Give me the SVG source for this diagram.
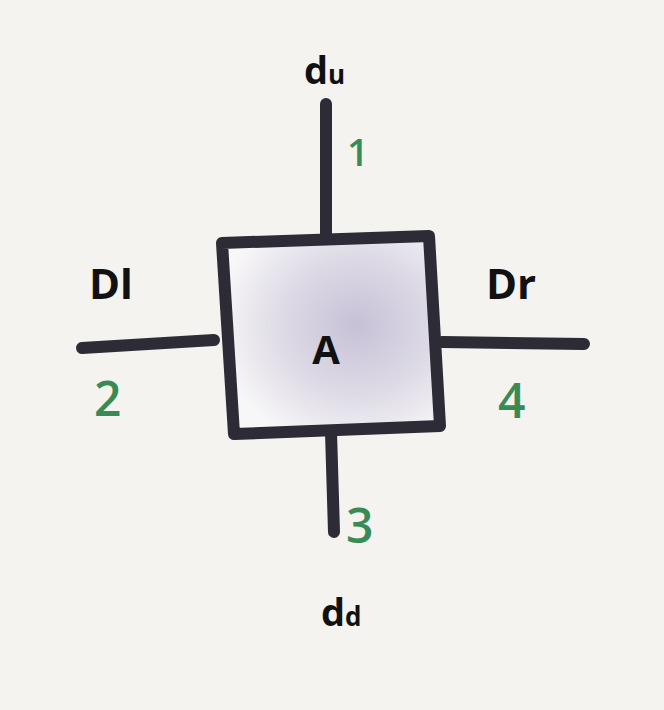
<svg xmlns="http://www.w3.org/2000/svg" width="664" height="710" viewBox="0 0 664 710">
<defs>
<radialGradient id="shade" cx="0.62" cy="0.45" r="0.65">
<stop offset="0" stop-color="#c6c1d6"/>
<stop offset="0.55" stop-color="#dedbe6"/>
<stop offset="1" stop-color="#f8f7f8"/>
</radialGradient>
<style>
.ln{stroke:#2c2b36;stroke-width:12;stroke-linecap:round;stroke-linejoin:round;fill:none}
.lbl{font-family:"Open Sans","Liberation Sans",sans-serif;font-weight:700;fill:#111;}
.num{font-family:"Open Sans","Liberation Sans",sans-serif;font-weight:600;fill:#3a8a55;}
</style>
</defs>
<rect width="664" height="710" fill="#f4f3ef"/>
<g id="connectors">
<path class="ln" d="M326,104 L326,238"/>
<path class="ln" d="M82,348 L214,340"/>
<path class="ln" d="M442,342 L584,344"/>
<path class="ln" d="M331,432 L334,532"/>
</g>
<g id="A">
<path d="M222,243 L429,236 L440,426 L234,434 Z" fill="url(#shade)"/>
<path class="ln" stroke-width="13" d="M222,243 L429,236 L440,426 L234,434 Z"/>
<text class="lbl" x="326" y="364" font-size="40" text-anchor="middle">A</text>
</g>
<g id="du">
<text class="lbl" x="304" y="84" font-size="38">d<tspan font-size="26">u</tspan></text>
<text class="num" x="347" y="166" font-size="38">1</text>
</g>
<g id="Dl">
<text class="lbl" x="89" y="299" font-size="42">Dl</text>
<text class="num" x="94" y="416" font-size="48">2</text>
</g>
<g id="Dr">
<text class="lbl" x="486" y="299" font-size="42">Dr</text>
<text class="num" x="498" y="418" font-size="48">4</text>
</g>
<g id="dd">
<text class="num" x="346" y="543" font-size="48">3</text>
<text class="lbl" x="321" y="626" font-size="38">d<tspan font-size="26">d</tspan></text>
</g>
</svg>
